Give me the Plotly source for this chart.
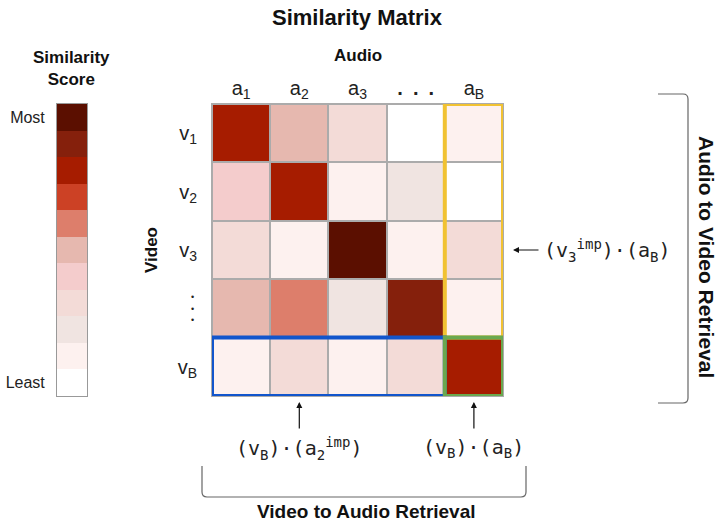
import plotly.graph_objects as go

# ---------------- data ----------------
video_labels = ["v<sub>1</sub>", "v<sub>2</sub>", "v<sub>3</sub>", "", "v<sub>B</sub>"]
audio_labels = ["a<sub>1</sub>", "a<sub>2</sub>", "a<sub>3</sub>", "<b>.\u2002.\u2002.</b>", "a<sub>B</sub>"]
# similarity level 0 (least) .. 10 (most), rows = video, cols = audio
similarity = [
    [8, 5, 3, 0, 1],
    [4, 8, 1, 2, 0],
    [3, 1, 10, 1, 3],
    [5, 6, 2, 9, 1],
    [1, 3, 1, 3, 8],
]
score_levels = list(range(11))
level_colors = ["#FFFFFF", "#FDF1EF", "#F0E4E1", "#F3DBD7", "#F4CCCC", "#E6B8AF",
                "#DD7E6B", "#CC4125", "#A61C00", "#85200C", "#5B0F00"]
scale_labels = ["Least", "Most"]
target_row = 4
target_col = 4
imp_row = 2
imp_col = 1

W, H = 720, 522
def px(x):
    return x / W
def py(y):
    return 1 - y / H

n = len(level_colors)
colorscale = []
for i, c in enumerate(level_colors):
    colorscale.append([i / n, c])
    colorscale.append([(i + 1) / n, c])

FONT = "Liberation Sans"
MONO = "DejaVu Sans Mono"

fig = go.Figure()
fig.add_trace(go.Heatmap(
    z=similarity, x=list(range(len(audio_labels))), y=list(range(len(video_labels))),
    colorscale=colorscale, zmin=-0.5, zmax=n - 0.5, showscale=False,
    xgap=2, ygap=2, hoverinfo="skip"))
fig.add_trace(go.Heatmap(
    z=[[v] for v in score_levels], x=[0], y=score_levels,
    colorscale=colorscale, zmin=-0.5, zmax=n - 0.5, showscale=False,
    xaxis="x2", yaxis="y2", hoverinfo="skip"))

ydom = [py(396), py(104)]
fig.update_layout(
    width=W, height=H, margin=dict(l=0, r=0, t=0, b=0),
    paper_bgcolor="white", plot_bgcolor="#ABABAB",
    font=dict(family=FONT, color="#222222"),
    xaxis=dict(domain=[px(212), px(503)], range=[-0.5, 4.5], side="top",
               tickvals=list(range(len(audio_labels))), ticktext=audio_labels,
               tickfont=dict(size=20, color="#222"), ticks="", showgrid=False,
               zeroline=False, showline=True, mirror=True, linecolor="#ABABAB",
               linewidth=1, anchor="y", fixedrange=True),
    yaxis=dict(domain=ydom, range=[4.5, -0.5],
               tickvals=list(range(len(video_labels))), ticktext=video_labels,
               tickfont=dict(size=20, color="#222"), ticks="", showgrid=False,
               zeroline=False, showline=True, mirror=True, linecolor="#ABABAB",
               linewidth=1, anchor="x", ticklabelstandoff=10, fixedrange=True),
    xaxis2=dict(domain=[px(57), px(87)], range=[-0.5, 0.5], showticklabels=False,
                ticks="", showgrid=False, zeroline=False, showline=True, mirror=True,
                linecolor="#999999", linewidth=1, anchor="y2", fixedrange=True),
    yaxis2=dict(domain=ydom, range=[-0.5, n - 0.5], tickvals=[0, n - 1],
                ticktext=scale_labels, tickfont=dict(size=16, color="#222"),
                ticks="", showgrid=False, zeroline=False, showline=True, mirror=True,
                linecolor="#999999", linewidth=1, anchor="x2", ticklabelstandoff=8,
                fixedrange=True),
)

# highlight boxes
fig.add_shape(type="rect", xref="x", yref="y",
              x0=target_col - 0.5, x1=target_col + 0.5, y0=-0.5, y1=target_row - 0.5,
              line=dict(color="#F1C232", width=4))
fig.add_shape(type="rect", xref="x", yref="y",
              x0=-0.5, x1=target_col - 0.5, y0=target_row - 0.5, y1=target_row + 0.5,
              line=dict(color="#1155CC", width=4))
fig.add_shape(type="rect", xref="x", yref="y",
              x0=target_col - 0.5, x1=target_col + 0.5, y0=target_row - 0.5, y1=target_row + 0.5,
              line=dict(color="#6AA84F", width=4))

# brackets
bottom = (f"M {px(202)},{py(466)} L {px(202)},{py(492)} Q {px(202)},{py(497)} {px(207)},{py(497)} "
          f"L {px(521)},{py(497)} Q {px(526)},{py(497)} {px(526)},{py(492)} L {px(526)},{py(466)}")
right = (f"M {px(658)},{py(94)} L {px(683)},{py(94)} Q {px(688)},{py(94)} {px(688)},{py(99)} "
         f"L {px(688)},{py(398)} Q {px(688)},{py(403)} {px(683)},{py(403)} L {px(658)},{py(403)}")
for p in (bottom, right):
    fig.add_shape(type="path", xref="paper", yref="paper", path=p,
                  line=dict(color="#666666", width=1.2))

C = dict(xanchor="center", yanchor="middle", showarrow=False)
ann = []
ann.append(dict(text="<b>Similarity Matrix</b>", x=px(357), y=py(18), xref="paper", yref="paper",
                font=dict(size=22, color="#111"), **C))
ann.append(dict(text="<b>Audio</b>", x=px(358), y=py(55), xref="paper", yref="paper",
                font=dict(size=17, color="#111"), **C))
ann.append(dict(text="<b>Video</b>", x=px(151), y=py(250), xref="paper", yref="paper",
                textangle=-90, font=dict(size=17, color="#111"), **C))
ann.append(dict(text="<b>Similarity<br>Score</b>", x=px(71), y=py(68), xref="paper", yref="paper",
                font=dict(size=17, color="#111"), **C))
ann.append(dict(text="<b>Video to Audio Retrieval</b>", x=px(366), y=py(511), xref="paper", yref="paper",
                font=dict(size=19, color="#111"), **C))
ann.append(dict(text="<b>Audio to Video Retrieval</b>", x=px(706), y=py(257), xref="paper", yref="paper",
                textangle=90, font=dict(size=21, color="#111"), **C))
# vertical ellipsis for the 4th row
ann.append(dict(text="•<br>•<br>•", x=px(192), y=3, xref="paper", yref="y",
                font=dict(size=9, color="#222"), **C))
# arrows
ann.append(dict(text="", x=target_col + 0.5, y=imp_row, xref="x", yref="y",
                ax=37, ay=0, axref="pixel", ayref="pixel", standoff=10,
                showarrow=True, arrowhead=2, arrowsize=1, arrowwidth=1.2, arrowcolor="#111"))
for c in (imp_col, target_col):
    ann.append(dict(text="", x=c, y=target_row + 0.5, xref="x", yref="y",
                    ax=0, ay=34, axref="pixel", ayref="pixel", standoff=6,
                    showarrow=True, arrowhead=2, arrowsize=1, arrowwidth=1.2, arrowcolor="#111"))
mono = dict(family=MONO, size=20, color="#222")
ann.append(dict(text="(v<sub>3</sub><sup>imp</sup>)·(a<sub>B</sub>)", x=px(542), y=imp_row,
                xref="paper", yref="y", xanchor="left", yanchor="middle", showarrow=False, font=mono))
ann.append(dict(text="(v<sub>B</sub>)·(a<sub>2</sub><sup>imp</sup>)", x=imp_col, y=py(448),
                xref="x", yref="paper", font=mono, **C))
ann.append(dict(text="(v<sub>B</sub>)·(a<sub>B</sub>)", x=target_col, y=py(448),
                xref="x", yref="paper", font=mono, **C))
fig.update_layout(annotations=ann)

fig.write_html("out.html", config={"displayModeBar": False, "staticPlot": True},
               post_script="document.body.style.margin='0';")
